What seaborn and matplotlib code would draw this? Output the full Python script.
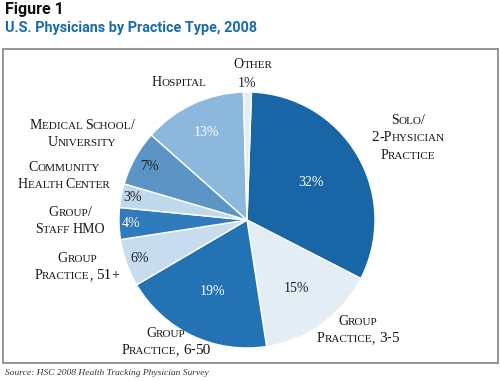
import numpy as np
import matplotlib
matplotlib.use("Agg")
import matplotlib.pyplot as plt
import seaborn as sns
from matplotlib import font_manager as fm
from matplotlib.patches import Rectangle
from matplotlib.offsetbox import TextArea, HPacker, VPacker, AnnotationBbox

# data
categories = ["Solo/\n2-Physician\nPractice", "Group\nPractice, 3-5", "Group\nPractice, 6-50",
              "Group\nPractice, 51+", "Group/\nStaff HMO", "Community\nHealth Center",
              "Medical School/\nUniversity", "Hospital", "Other"]
shares = [32, 15, 19, 6, 4, 3, 7, 13, 1]
colors = ["#1866a6", "#e3edf6", "#2372b3", "#c7dcee", "#2f7bbb",
          "#bfd8ec", "#5b94c5", "#8bb8dc", "#e4eef8"]
pct_colors = ["white", "#222222", "white", "#222222", "white",
              "#222222", "#222222", "white", "#222222"]
# distance of the percent text from the centre (fraction of radius)
pct_dist = [0.58, 0.66, 0.62, 0.89, 0.91, 0.91, 0.87, 0.75, 1.07]
# label block centres in pixels (x, y from top)
label_pos = [(408, 138), (358, 330), (166, 342), (77, 267), (70, 221),
             (64, 176), (82, 134), (179, 83), (253, 64)]

W, H = 500, 381
sns.set_theme(style="white")
plt.rcParams["font.family"] = ["Liberation Serif", "DejaVu Serif"]

serif_file = fm.findfont(fm.FontProperties(family="Liberation Serif"))
sans_file = fm.findfont(fm.FontProperties(family="Roboto", weight="bold"))


def serif(size):
    return fm.FontProperties(fname=serif_file, size=size)


fig = plt.figure(figsize=(W / 100, H / 100), dpi=100)
fig.patch.set_facecolor("white")


def fx(x):
    return x / W


def fy(y):
    return 1 - y / H


# frame
fig.add_artist(Rectangle((fx(3), fy(363)), fx(495), (363 - 49) / H, transform=fig.transFigure,
                         fill=False, edgecolor="#8c8c8c", linewidth=1.3))

# titles
fig.text(fx(5), fy(14), "Figure 1", fontproperties=fm.FontProperties(fname=sans_file, size=11.5),
         color="#111111", va="baseline")
fig.text(fx(5), fy(32), "U.S. Physicians by Practice Type, 2008",
         fontproperties=fm.FontProperties(fname=sans_file, size=10.4),
         color="#1a6aaa", va="baseline")
fig.text(fx(5), fy(375), "Source: HSC 2008 Health Tracking Physician Survey",
         fontsize=6.8, style="italic", color="#333333", va="baseline")

# pie
cx, cy, r = 247, 220, 128
ax = fig.add_axes([fx(cx - r), fy(cy + r), 2 * r / W, 2 * r / H])
wedges, _, pcts = ax.pie(shares, colors=colors, startangle=88, counterclock=False,
                         autopct="%d%%", radius=1,
                         wedgeprops=dict(edgecolor="white", linewidth=1.0))
ax.set_xlim(-1, 1)
ax.set_ylim(-1, 1)
ax.set_aspect("equal")
ax.axis("off")

for w, t, d, c in zip(wedges, pcts, pct_dist, pct_colors):
    mid = np.deg2rad((w.theta1 + w.theta2) / 2)
    t.set_position((d * np.cos(mid), d * np.sin(mid)))
    t.set_color(c)
    t.set_fontproperties(serif(10))


def kind(ch):
    if ch.islower():
        return "small"
    if ch.isdigit():
        return "digit"
    return "big"


def small_caps(text, big=10.0, small=8.0, digit=11.0, color="#161616"):
    sizes = {"small": small, "big": big, "digit": digit}
    lines = []
    for line in text.split("\n"):
        runs = []
        for ch in line:
            k = kind(ch)
            if runs and (runs[-1][1] == k or ch == " "):
                runs[-1][0] += ch
            else:
                runs.append([ch, k])
        kids = [TextArea(s.upper(), textprops=dict(fontproperties=serif(sizes[k]), color=color))
                for s, k in runs]
        lines.append(HPacker(children=kids, align="baseline", pad=0, sep=0))
    return VPacker(children=lines, align="center", pad=0, sep=3)


for name, (x, y) in zip(categories, label_pos):
    box = small_caps(name)
    ab = AnnotationBbox(box, (fx(x), fy(y)), xycoords="figure fraction",
                        frameon=False, box_alignment=(0.5, 0.5), pad=0)
    fig.add_artist(ab)

fig.savefig("out.png", dpi=100, facecolor="white")
